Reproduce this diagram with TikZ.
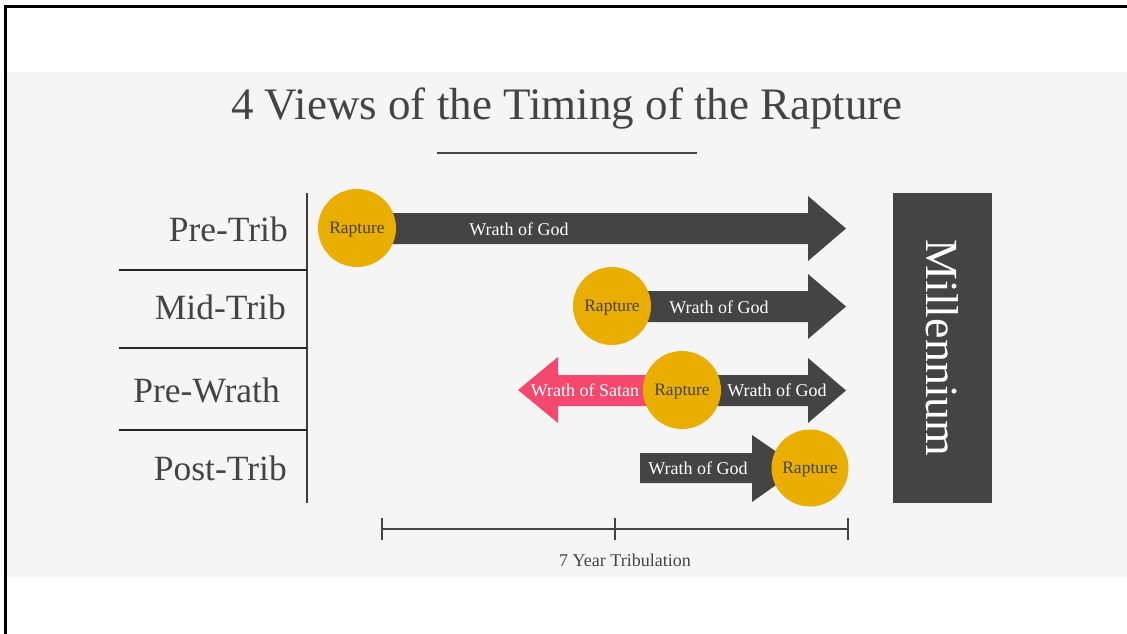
\documentclass[tikz,border=0pt]{standalone}
\usepackage{fontspec}
\setmainfont{Liberation Serif}
\definecolor{bgband}{HTML}{F5F5F5}
\definecolor{darkg}{HTML}{444444}
\definecolor{gold}{HTML}{E9AE00}
\definecolor{pinkw}{HTML}{F5486E}
\definecolor{labelc}{HTML}{444444}
\newcommand{\RArrowShape}[5]{% color, x0, xh, xt, y
  \fill[#1] (#2,#5-15.5) -- (#3,#5-15.5) -- (#3,#5-32.5) -- (#4,#5) -- (#3,#5+32.5) -- (#3,#5+15.5) -- (#2,#5+15.5) -- cycle;}
\begin{document}
\begin{tikzpicture}[x=1pt,y=-1pt,
  rowlabel/.style={anchor=east,text=labelc,font=\fontsize{35.5}{40}\selectfont,inner sep=0pt},
  rapt/.style={circle,fill=gold,minimum size=78pt,inner sep=0pt,text=darkg,text depth=0pt,font=\fontsize{17.5}{19}\selectfont},
  wtext/.style={text=white,font=\fontsize{18}{20}\selectfont,inner sep=0pt},
  gline/.style={draw=darkg,line width=2pt}]
\useasboundingbox (0,0) rectangle (1127,634);
\fill[white] (0,0) rectangle (1127,634);
\fill[bgband] (7,72) rectangle (1127,577);
\draw[black,line width=2.5pt] (5.5,634) -- (5.5,6.5) -- (1127,6.5);
% title
\node[text=labelc,font=\fontsize{45}{50}\selectfont,inner sep=0pt] (title) at (567,109) {4 Views of the Timing of the Rapture};
\coordinate (ul1) at (437,153);
\coordinate (ul2) at (697,153);
\draw[gline] (ul1) -- (ul2);
% left axis
\coordinate (ax1) at (307,193);
\coordinate (ax2) at (307,503);
\draw[gline,draw=darkg!90!black] (ax1) -- (ax2);
\foreach \yy/\nm in {270/s1,348/s2,430/s3}{
  \coordinate (\nm a) at (119,\yy);
  \coordinate (\nm b) at (307,\yy);
  \draw[line width=2pt,draw=black!85] (\nm a) -- (\nm b);
}
\node[rowlabel] (l1) at (288,229) {Pre-Trib};
\node[rowlabel] (l2) at (286,307) {Mid-Trib};
\node[rowlabel] (l3) at (280,390) {Pre-Wrath};
\node[rowlabel] (l4) at (287,468) {Post-Trib};
% row 1
\RArrowShape{darkg}{357}{808}{846}{228.5}
\node[wtext] (w1) at (519,229) {Wrath of God};
\node[rapt] (r1) at (357,228) {Rapture};
% row 2
\RArrowShape{darkg}{612}{808}{846}{306.5}
\node[wtext] (w2) at (719,307) {Wrath of God};
\node[rapt] (r2) at (612,306) {Rapture};
% row 3
\fill[pinkw] (682,375) -- (558,375) -- (558,357) -- (518,390) -- (558,423) -- (558,406) -- (682,406) -- cycle;
\RArrowShape{darkg}{682}{808}{846}{390.5}
\node[wtext] (s3) at (585,390) {Wrath of Satan};
\node[wtext] (w3) at (777,390) {Wrath of God};
\node[rapt] (r3) at (682,390) {Rapture};
% row 4
\fill[darkg] (640,453) -- (752,453) -- (752,435) -- (800,468) -- (752,502) -- (752,483) -- (640,483) -- cycle;
\node[wtext] (w4) at (698,468) {Wrath of God};
\node[rapt,minimum size=77pt] (r4) at (810,468) {Rapture};
% millennium
\node[fill=darkg,minimum width=99pt,minimum height=310pt,inner sep=0pt] (mill) at (942.5,348) {};
\node[rotate=-90,text=white,font=\fontsize{46}{50}\selectfont,inner sep=0pt] (millt) at (mill.center) {Millennium};
% timeline
\coordinate (t1) at (382,529);
\coordinate (t2) at (615,529);
\coordinate (t3) at (848,529);
\draw[gline] (t1) -- (t3);
\foreach \c in {t1,t2,t3}{\draw[gline] ([yshift=-11pt]\c) -- ([yshift=11pt]\c);}
\node[text=labelc,font=\fontsize{18}{20}\selectfont,inner sep=0pt] (tl) at (625,560) {7 Year Tribulation};
\end{tikzpicture}
\end{document}
